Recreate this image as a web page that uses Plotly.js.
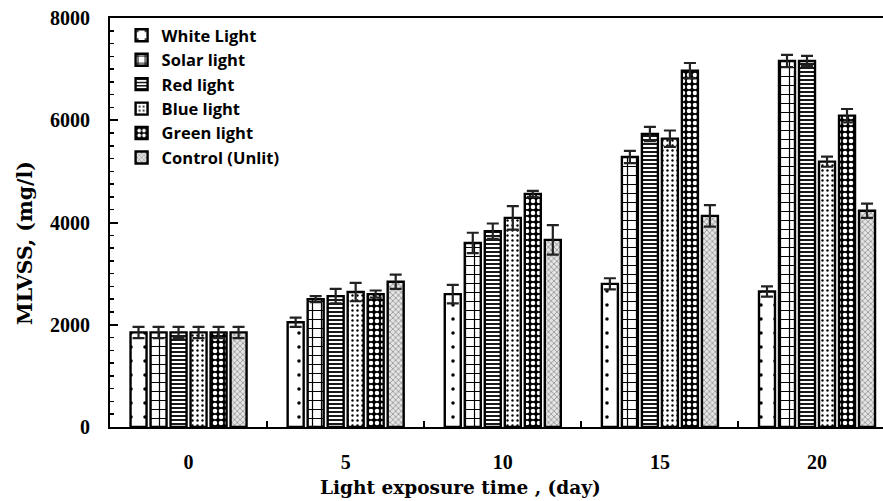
<!DOCTYPE html>
<html>
<head>
<meta charset="utf-8">
<script src="https://cdn.plot.ly/plotly-3.0.1.min.js"></script>
<style>html,body{margin:0;padding:0;background:#fff;overflow:hidden}#chart{width:883px;height:501px}</style>
</head>
<body>
<div id="chart"></div>
<script>
var days = ["0", "5", "10", "15", "20"];
var seriesNames = ["White Light", "Solar light", "Red light", "Blue light", "Green light", "Control (Unlit)"];

var whiteLight = [1850, 2050, 2600, 2800, 2650];
var solarLight = [1850, 2500, 3600, 5280, 7160];
var redLight   = [1850, 2560, 3830, 5730, 7160];
var blueLight  = [1850, 2640, 4090, 5640, 5190];
var greenLight = [1850, 2600, 4560, 6970, 6090];
var controlUnlit = [1850, 2840, 3660, 4130, 4230];

var whiteErr   = [110, 90, 180, 110, 100];
var solarErr   = [110, 60, 200, 120, 120];
var redErr     = [110, 140, 150, 140, 100];
var blueErr    = [110, 180, 230, 160, 100];
var greenErr   = [110, 70, 60, 150, 130];
var controlErr = [110, 140, 290, 210, 140];

var xTitle = "Light exposure time , (day)";
var yTitle = "MLVSS, (mg/l)";

var values = [whiteLight, solarLight, redLight, blueLight, greenLight, controlUnlit];
var errors = [whiteErr, solarErr, redErr, blueErr, greenErr, controlErr];

var styles = [
  {color: "#ffffff", pattern: {shape: ".", bgcolor: "#ffffff", fgcolor: "#000000", size: 14, solidity: 0.05}},
  {color: "#ffffff", pattern: {shape: "+", bgcolor: "#ffffff", fgcolor: "#000000", size: 9, solidity: 0.25}},
  {color: "#ffffff", pattern: {shape: "-", bgcolor: "#ffffff", fgcolor: "#000000", size: 4, solidity: 0.45}},
  {color: "#ffffff", pattern: {shape: ".", bgcolor: "#ffffff", fgcolor: "#000000", size: 5, solidity: 0.18}},
  {color: "#000000", pattern: {shape: ".", bgcolor: "#000000", fgcolor: "#ffffff", size: 6, solidity: 0.45}},
  {color: "#d0d0d0", pattern: {shape: "x", bgcolor: "#e4e4e4", fgcolor: "#808080", size: 4, solidity: 0.3}}
];

var traces = seriesNames.map(function (name, i) {
  return {
    type: "bar",
    name: name,
    x: days,
    y: values[i],
    error_y: {type: "data", array: errors[i], visible: true, color: "#222222", thickness: 2.2, width: 6},
    marker: {
      color: styles[i].color,
      pattern: styles[i].pattern,
      line: {color: "#000000", width: 2.4}
    }
  };
});

var serif = "Liberation Serif, Times New Roman, serif";
var serifWide = "DejaVu Serif, Liberation Serif, serif";

var layout = {
  width: 883,
  height: 501,
  margin: {l: 110, r: 0, t: 18, b: 74},
  paper_bgcolor: "#ffffff",
  plot_bgcolor: "#ffffff",
  barmode: "group",
  bargap: 0.236,
  bargroupgap: 0.2,
  showlegend: true,
  legend: {
    x: 0.015, y: 1.0, xanchor: "left", yanchor: "top",
    bgcolor: "rgba(0,0,0,0)",
    font: {family: "Open Sans, sans-serif", size: 16.5, color: "#000000", weight: "bold"},
    tracegroupgap: 0,
    itemwidth: 30
  },
  xaxis: {
    type: "category",
    range: [-0.5, 4.42],
    showline: true, linecolor: "#000000", linewidth: 2, mirror: true,
    ticks: "inside", tickson: "boundaries", ticklen: 6, tickcolor: "#000000", tickwidth: 2,
    showgrid: false, zeroline: false,
    tickfont: {family: serif, size: 20, color: "#000000", weight: "bold"},
    ticklabelstandoff: 16
  },
  yaxis: {
    range: [0, 8000],
    dtick: 2000,
    showline: true, linecolor: "#000000", linewidth: 2, mirror: false,
    ticks: "inside", ticklen: 8, tickcolor: "#000000", tickwidth: 2,
    minor: {dtick: 250, ticks: "inside", ticklen: 4, tickcolor: "#000000", tickwidth: 1.5, showgrid: false},
    showgrid: false, zeroline: false,
    tickfont: {family: serif, size: 20, color: "#000000", weight: "bold"},
    ticklabelstandoff: 14
  },
  annotations: [
    {text: xTitle, xref: "paper", yref: "paper", x: 0.454, y: -0.149, xanchor: "center", yanchor: "middle",
     showarrow: false, font: {family: serifWide, size: 18.5, color: "#000000", weight: "bold"}},
    {text: yTitle, xref: "paper", yref: "paper", x: -0.11, y: 0.45, xanchor: "center", yanchor: "middle",
     textangle: -90, showarrow: false, font: {family: serifWide, size: 20.5, color: "#000000", weight: "bold"}}
  ]
};

Plotly.newPlot("chart", traces, layout, {displayModeBar: false, staticPlot: true});
</script>
</body>
</html>
